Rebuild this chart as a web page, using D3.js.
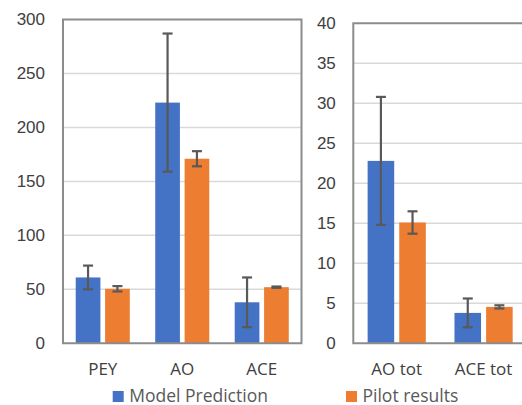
<!DOCTYPE html><meta charset="utf-8"><style>
    body { margin: 0; background: #fff; }
    svg { display: block; font-family: "Open Sans", "Noto Sans", sans-serif; }
    .tick text { fill: #404040; font-size: 17px; }
    .cat text { fill: #404040; font-size: 17px; }
    .legend text { fill: #595959; font-size: 17.5px; }
</style><svg width="522" height="405"></svg><script src="https://cdn.jsdelivr.net/npm/d3@7"></script><script>

    var width = 522, height = 405;

    var series = ["Model Prediction", "Pilot results"];
    var colors = ["#4472C4", "#ED7D31"];

    // left panel
    var catsLeft = ["PEY", "AO", "ACE"];
    var modelLeft = [61, 223, 38];
    var modelLeftErr = [11, 64, 23];
    var pilotLeft = [50.5, 171, 52];
    var pilotLeftErr = [2.5, 7, 0.6];
    var ticksLeft = [0, 50, 100, 150, 200, 250, 300];

    // right panel
    var catsRight = ["AO tot", "ACE tot"];
    var modelRight = [22.8, 3.8];
    var modelRightErr = [8, 1.8];
    var pilotRight = [15.1, 4.55];
    var pilotRightErr = [1.4, 0.2];
    var ticksRight = [0, 5, 10, 15, 20, 25, 30, 35, 40];

    const svg = d3.select("svg")
        .attr("viewBox", [0, 0, width, height]);

    function panel(opts) {
        var rows = opts.cats.map((c, i) => ({
            cat: c,
            vals: [
                {s: 0, v: opts.model[i], e: opts.modelErr[i]},
                {s: 1, v: opts.pilot[i], e: opts.pilotErr[i]}
            ]
        }));

        var x0 = d3.scaleBand()
            .domain(opts.cats)
            .range([opts.left, opts.right])
            .paddingInner(opts.pad)
            .paddingOuter(opts.pad / 2);

        var x1 = d3.scaleBand()
            .domain([0, 1])
            .range([0, x0.bandwidth()])
            .paddingInner(0.16);

        var y = d3.scaleLinear()
            .domain([0, d3.max(opts.ticks)])
            .range([opts.bottom, opts.top]);

        var g = svg.append("g");

        // gridlines
        g.append("g")
            .selectAll("line")
            .data(opts.ticks.filter(t => t > 0 && t < d3.max(opts.ticks)))
            .join("line")
            .attr("x1", opts.left).attr("x2", opts.right)
            .attr("y1", d => y(d)).attr("y2", d => y(d))
            .attr("stroke", "#d9d9d9")
            .attr("stroke-width", 1.5);

        // y axis labels
        g.append("g")
            .attr("transform", `translate(${opts.left},0)`)
            .call(d3.axisLeft(y).tickValues(opts.ticks).tickSize(0).tickPadding(opts.labelPad))
            .call(g => g.select(".domain").remove())
            .call(g => g.selectAll("text").attr("font-family", null).attr("font-size", null));

        // bars
        var grp = g.append("g")
            .selectAll("g")
            .data(rows)
            .join("g")
            .attr("transform", d => `translate(${x0(d.cat)},0)`);

        grp.selectAll("rect")
            .data(d => d.vals)
            .join("rect")
            .attr("x", d => x1(d.s))
            .attr("y", d => y(d.v))
            .attr("width", x1.bandwidth())
            .attr("height", d => y(0) - y(d.v))
            .attr("fill", d => colors[d.s]);

        // error bars
        var eb = grp.selectAll("g.err")
            .data(d => d.vals)
            .join("g")
            .attr("class", "err")
            .attr("stroke", "#595959")
            .attr("stroke-width", 2.2);
        var cx = d => x1(d.s) + x1.bandwidth() / 2;
        eb.append("line")
            .attr("x1", cx).attr("x2", cx)
            .attr("y1", d => y(d.v + d.e)).attr("y2", d => y(d.v - d.e));
        eb.append("line")
            .attr("x1", d => cx(d) - 5).attr("x2", d => cx(d) + 5)
            .attr("y1", d => y(d.v + d.e)).attr("y2", d => y(d.v + d.e));
        eb.append("line")
            .attr("x1", d => cx(d) - 5).attr("x2", d => cx(d) + 5)
            .attr("y1", d => y(d.v - d.e)).attr("y2", d => y(d.v - d.e));

        // frame
        g.append("path")
            .attr("d", opts.closed
                ? `M${opts.left},${opts.top}H${opts.right}V${opts.bottom}H${opts.left}Z`
                : `M${opts.right + 10},${opts.top}H${opts.left}V${opts.bottom}H${opts.right + 10}`)
            .attr("fill", "none")
            .attr("stroke", "#8c8c8c")
            .attr("stroke-width", 2);

        // category labels
        g.append("g")
            .attr("class", "cat")
            .selectAll("text")
            .data(opts.cats)
            .join("text")
            .attr("x", d => x0(d) + x0.bandwidth() / 2)
            .attr("y", 375)
            .attr("text-anchor", "middle")
            .text(d => d);
    }

    panel({cats: catsLeft, model: modelLeft, modelErr: modelLeftErr,
        pilot: pilotLeft, pilotErr: pilotLeftErr, ticks: ticksLeft,
        left: 63, right: 301.5, top: 19.5, bottom: 343.3, pad: 0.32, labelPad: 18, closed: true});

    panel({cats: catsRight, model: modelRight, modelErr: modelRightErr,
        pilot: pilotRight, pilotErr: pilotRightErr, ticks: ticksRight,
        left: 353.3, right: 527, top: 23.3, bottom: 343.3, pad: 0.33, labelPad: 17.5, closed: false});

    // legend
    var leg = svg.append("g").attr("class", "legend")
        .selectAll("g")
        .data(series)
        .join("g")
        .attr("transform", (d, i) => `translate(${[112.7, 346][i]},391)`);
    leg.append("rect")
        .attr("width", 11).attr("height", 11)
        .attr("fill", (d, i) => colors[i]);
    leg.append("text")
        .attr("x", 16.5).attr("y", 10.5)
        .text(d => d);

</script>
